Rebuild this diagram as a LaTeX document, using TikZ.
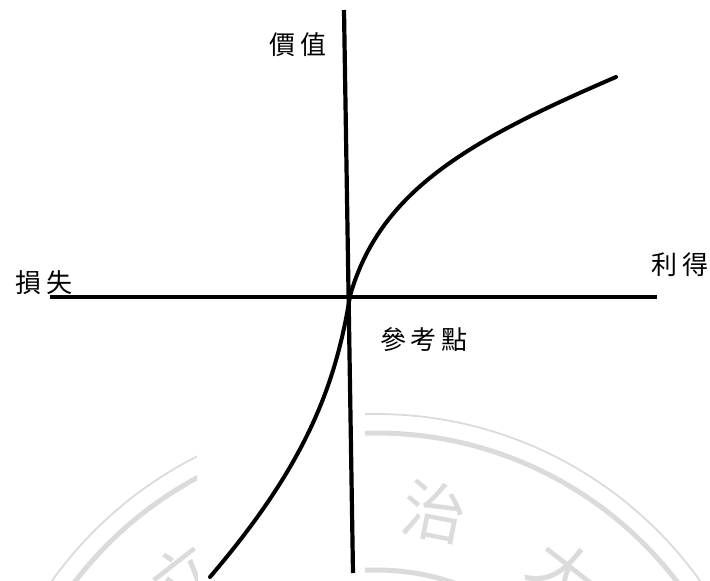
\documentclass[tikz,border=0pt]{standalone}
\usepackage{fontspec}
\newfontfamily\cjk[LetterSpace=18]{Noto Sans CJK TC}
\newfontfamily\sealfont{Noto Sans CJK TC}

\begin{document}
\begin{tikzpicture}[x=1pt, y=-1pt,
    axis/.style={line width=4.2pt, black},
    valuecurve/.style={line width=4pt, black, line cap=round},
    axislabel/.style={font=\cjk\fontsize{26}{30}\selectfont, inner sep=0pt},
    sealring/.style={black!14},
    sealchar/.style={font=\sealfont\fontsize{64}{70}\selectfont, text=black!14, inner sep=0pt}]
  \useasboundingbox (0,0) rectangle (710,581);

  % 0. 浮水印
  \coordinate (wm) at (376,812);
  \begin{scope}
    \clip (0,0) rectangle (197,581) (365,0) rectangle (710,581);
    \draw[sealring, line width=1.8pt] (wm) circle[radius=398pt];
    \draw[sealring, line width=5pt] (wm) circle[radius=379pt];
    \draw[sealring, line width=5pt] (wm) circle[radius=242pt];
    \node[sealchar, rotate=38] (li) at (183,575) {立};
    \node[sealchar, rotate=-11] (zhi) at (435,512) {治};
    \node[sealchar, rotate=-38] (da) at (564,573) {大};
  \end{scope}

  % 1. 座標軸
  \coordinate (xl) at (50,297);
  \coordinate (xr) at (657,297);
  \coordinate (yt) at (344,10);
  \coordinate (yb) at (353,573);
  \draw[axis] (xl) -- (xr);
  \draw[axis] (yt) -- (yb);

  % 2. 價值函數
  \coordinate (ref) at (350,296);
  \coordinate (lossend) at (210,577);
  \coordinate (gainend) at (616,77);
  \draw[valuecurve] (lossend) .. controls (303,468) and (335,390) .. (ref)
      .. controls (380,190) and (470,140) .. (gainend);

  % 3. 標示
  \node[axislabel] (value) at (298,45) {價值};
  \node[axislabel] (loss) at (44,283) {損失};
  \node[axislabel] (gain) at (680,265) {利得};
  \node[axislabel] (refpt) at (424,340) {參考點};
\end{tikzpicture}
\end{document}
